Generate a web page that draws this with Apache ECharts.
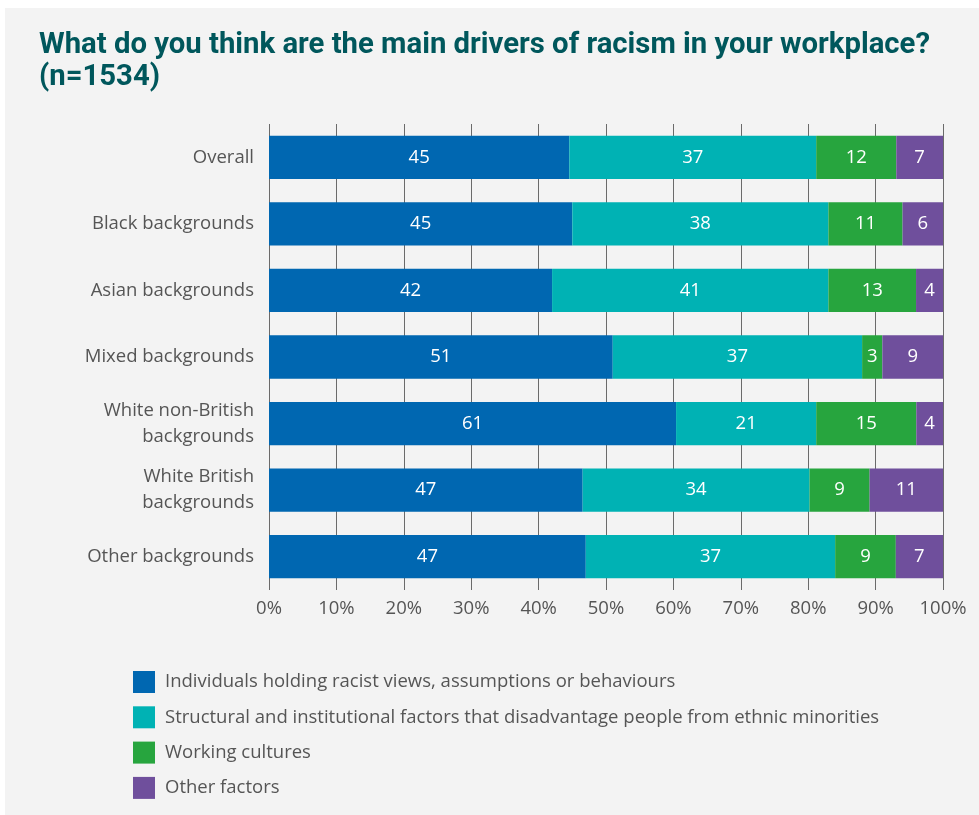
<!DOCTYPE html>
<html><head><meta charset="utf-8">
<script src="https://cdn.jsdelivr.net/npm/echarts@6/dist/echarts.min.js"></script>
<style>
html,body{margin:0;padding:0;background:#fff;width:979px;height:815px;overflow:hidden}
#bg{position:absolute;left:5px;top:8px;width:974px;height:807px;background:#f3f3f3}
#c{position:absolute;left:0;top:0;width:979px;height:815px}
</style></head>
<body><div id="bg"></div><div id="c"></div>
<script>
const categories = ["Overall","Black backgrounds","Asian backgrounds","Mixed backgrounds","White non-British\nbackgrounds","White British\nbackgrounds","Other backgrounds"];
const seriesNames = ["Individuals holding racist views, assumptions or behaviours","Structural and institutional factors that disadvantage people from ethnic minorities","Working cultures","Other factors"];
const individuals = [45,45,42,51,61,47,47];
const structural = [37,38,41,37,21,34,37];
const working = [12,11,13,3,15,9,9];
const other = [7,6,4,9,4,11,7];
const tickLabels = ["0%","10%","20%","30%","40%","50%","60%","70%","80%","90%","100%"];
const colors = ["#0067b1","#00b2b4","#27a53e","#6f4f9c"];

const raw = [individuals, structural, working, other];
const totals = categories.map((_, i) => raw.reduce((s, a) => s + a[i], 0));
const FONT = "'Open Sans', sans-serif";
const FS = 18.5;

const series = raw.map((arr, k) => ({
  name: seriesNames[k],
  type: 'bar',
  stack: 'total',
  barWidth: '65%',
  itemStyle: { color: colors[k] },
  label: {
    show: true, position: 'inside', color: '#fff', fontFamily: FONT, fontSize: FS,
    formatter: p => String(arr[p.dataIndex])
  },
  data: arr.map((v, i) => v / totals[i] * 100)
}));

const chart = echarts.init(document.getElementById('c'), null, {renderer:'canvas'});
chart.setOption({
  backgroundColor: 'transparent',
  animation: false,
  title: {
    text: "What do you think are the main drivers of racism in your workplace?\n(n=1534)",
    left: 39, top: 30, padding: 0,
    textStyle: { color: '#00575c', fontFamily: "Roboto, sans-serif", fontWeight: 'bold', fontSize: 29.3, lineHeight: 32 }
  },
  grid: { left: 269, right: 36, top: 124, height: 466, containLabel: false },
  xAxis: {
    type: 'value', min: 0, max: 100, interval: 10,
    axisLine: { show: false }, axisTick: { show: false },
    splitLine: { show: true, lineStyle: { color: '#6a6a6a', width: 1 } },
    axisLabel: { color: '#555', fontFamily: FONT, fontSize: FS, margin: 9,
      formatter: v => tickLabels[Math.round(v / 10)] }
  },
  yAxis: {
    type: 'category', data: categories, inverse: true,
    axisLine: { show: false }, axisTick: { show: false },
    axisLabel: { color: '#555', fontFamily: FONT, fontSize: FS, margin: 15, lineHeight: 26, align: 'right' }
  },
  legend: {
    orient: 'vertical', left: 133, top: 671, padding: 0, itemWidth: 22, itemHeight: 22, itemGap: 13.3,
    icon: 'rect', data: seriesNames,
    textStyle: { color: '#555', fontFamily: FONT, fontSize: FS, padding: [0,0,0,5] }
  },
  series: series
});
</script></body></html>
